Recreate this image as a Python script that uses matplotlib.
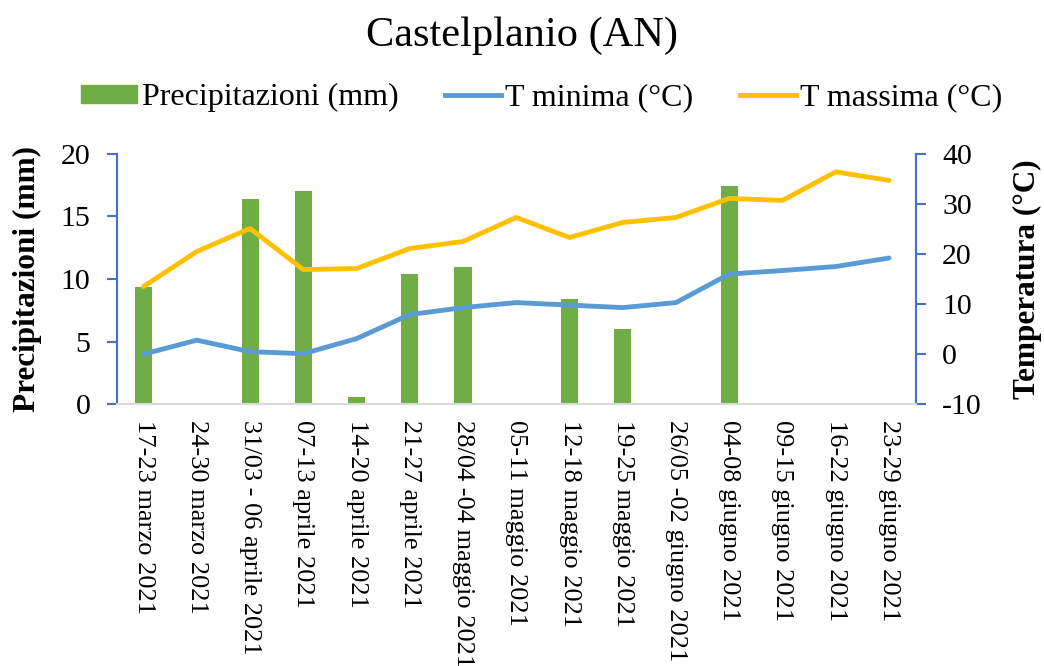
import numpy as np
import matplotlib.pyplot as plt
from matplotlib.patches import Patch
from matplotlib.lines import Line2D

plt.rcParams['font.family'] = ['Liberation Serif', 'DejaVu Serif']
plt.rcParams['axes.unicode_minus'] = False

# Settimane di rilevazione
settimane = ["17-23 marzo 2021", "24-30 marzo 2021", "31/03 - 06 aprile 2021",
             "07-13 aprile 2021", "14-20 aprile 2021", "21-27 aprile 2021",
             "28/04 -04 maggio 2021", "05-11 maggio 2021", "12-18 maggio 2021",
             "19-25 maggio 2021", "26/05 -02 giugno 2021", "04-08 giugno 2021",
             "09-15 giugno 2021", "16-22 giugno 2021", "23-29 giugno 2021"]

# Precipitazioni settimanali (mm)
precipitazioni = [9.4, 0, 16.4, 17.0, 0.6, 10.4, 11.0, 0, 8.4, 6.0, 0, 17.4, 0, 0, 0]

# Temperature (°C)
t_minima = [0.0, 2.8, 0.5, 0.1, 3.1, 7.9, 9.3, 10.3, 9.8, 9.3, 10.3, 16.0, 16.7, 17.5, 19.2]
t_massima = [13.5, 20.5, 25.1, 16.9, 17.1, 21.1, 22.5, 27.3, 23.3, 26.3, 27.3, 31.1, 30.7, 36.4, 34.7]

verde = "#70AD47"
blu = "#5B9BD5"
giallo = "#FFC000"
asse = "#4472C4"

fig = plt.figure(figsize=(10.44, 6.66), dpi=100)
ax = fig.add_axes([0.112, 0.393, 0.765, 0.376])
x = np.arange(len(settimane))

ax.bar(x, precipitazioni, width=0.32, color=verde, zorder=2)
ax.set_xlim(-0.5, len(settimane) - 0.5)
ax.set_ylim(0, 20)
ax.set_yticks([0, 5, 10, 15, 20])
ax.set_ylabel("Precipitazioni (mm)", fontsize=22.5, fontweight="bold")
ax.yaxis.set_label_coords(-0.094, 0.5)
ax.set_xticks(x)
ax.set_xticklabels(settimane, rotation=270, fontsize=19)
ax.tick_params(axis="x", length=0, pad=11)
ax.tick_params(axis="y", labelsize=21.5, length=7, color=asse, width=1.5, pad=12)

ax2 = ax.twinx()
ax2.plot(x, t_minima, color=blu, lw=3.5, solid_capstyle="round")
ax2.plot(x, t_massima, color=giallo, lw=3.5, solid_capstyle="round")
ax2.set_ylim(-10, 40)
ax2.set_yticks([-10, 0, 10, 20, 30, 40])
ax2.set_ylabel("Temperatura (°C)", fontsize=22.5, fontweight="bold")
ax2.yaxis.set_label_coords(1.122, 0.5)
ax2.tick_params(axis="y", labelsize=21.5, length=7, color=asse, width=1.5, pad=12)

for a in (ax, ax2):
    a.spines["top"].set_visible(False)
    a.spines["left"].set_color(asse)
    a.spines["right"].set_color(asse)
    a.spines["left"].set_linewidth(1.5)
    a.spines["right"].set_linewidth(1.5)
    a.spines["bottom"].set_color("#D9D9D9")
    a.spines["bottom"].set_linewidth(1.5)

fig.suptitle("Castelplanio (AN)", fontsize=30.5, y=0.975)

handles = [Patch(color=verde, label="Precipitazioni (mm)"),
           Line2D([0], [0], color=blu, lw=3.5, label="T minima (°C)"),
           Line2D([0], [0], color=giallo, lw=3.5, label="T massima (°C)")]
fig.legend(handles=handles, loc="center", bbox_to_anchor=(0.519, 0.853), ncol=3,
           frameon=False, fontsize=23, handlelength=1.75, handleheight=0.5,
           columnspacing=1.45, handletextpad=0.15)

fig.savefig("out.png", dpi=100)
